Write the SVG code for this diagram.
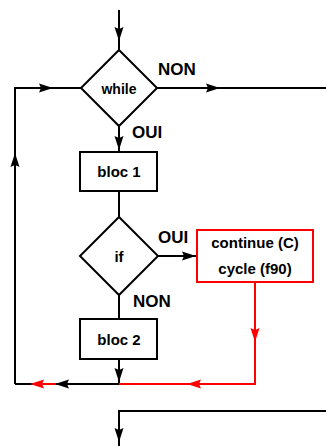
<svg xmlns="http://www.w3.org/2000/svg" xmlns:xlink="http://www.w3.org/1999/xlink" width="326" height="446" viewBox="0 0 326 446">
<style>
.ln{fill:none;stroke:#000;stroke-width:2}
.rl{fill:none;stroke:#f00;stroke-width:2}
.shape{fill:#fff;stroke:#000;stroke-width:2}
.rbox{fill:#fff;stroke:#f00;stroke-width:2}
.t{font-family:"Liberation Sans",Arial,sans-serif;font-weight:bold;font-size:15px;text-anchor:middle;fill:#000}
.lab{font-family:"Liberation Sans",Arial,sans-serif;font-weight:bold;font-size:17px;fill:#000}
.ab{fill:#000}
.ar{fill:#f00}
</style>
<defs>
<path id="ah" d="M0,0 L-14,-4.5 L-12,0 L-14,4.5 Z"/>
</defs>
<g id="connectors">
<path class="ln" d="M119,10 V50"/>
<path class="ln" d="M15,384 V88 H81"/>
<path class="ln" d="M157,88 H326"/>
<path class="ln" d="M119,126 V152"/>
<path class="ln" d="M119,191 V217"/>
<path class="ln" d="M158,256 H197"/>
<path class="ln" d="M119,295 V319"/>
<path class="ln" d="M119,359 V384 H15"/>
<path class="rl" d="M255,282 V384 H119"/>
<path class="rl" d="M56,384 H40"/>
<path class="ln" d="M326,411 H119 V446"/>
<use xlink:href="#ah" class="ab" transform="translate(119,41) rotate(90)"/>
<use xlink:href="#ah" class="ab" transform="translate(15,153) rotate(-90)"/>
<use xlink:href="#ah" class="ab" transform="translate(53,88)"/>
<use xlink:href="#ah" class="ab" transform="translate(220,88)"/>
<use xlink:href="#ah" class="ab" transform="translate(119,150) rotate(90)"/>
<use xlink:href="#ah" class="ab" transform="translate(196,256)"/>
<use xlink:href="#ah" class="ab" transform="translate(119,382) rotate(90)"/>
<use xlink:href="#ah" class="ab" transform="translate(55,384) rotate(180)"/>
<use xlink:href="#ah" class="ar" transform="translate(255,342) rotate(90)"/>
<use xlink:href="#ah" class="ar" transform="translate(187,384) rotate(180)"/>
<use xlink:href="#ah" class="ar" transform="translate(30,384) rotate(180)"/>
<use xlink:href="#ah" class="ab" transform="translate(119,442) rotate(90)"/>
</g>
<g id="while">
<path class="shape" d="M119,50 L157,88 L119,126 L81,88 Z"/>
<text class="t" x="119" y="94" style="font-size:14px">while</text>
</g>
<g id="label-non1"><text class="lab" x="158" y="75">NON</text></g>
<g id="label-oui1"><text class="lab" x="132" y="138">OUI</text></g>
<g id="bloc1">
<rect class="shape" x="80" y="152" width="77" height="39"/>
<text class="t" x="119" y="177">bloc 1</text>
</g>
<g id="if">
<path class="shape" d="M119,217 L158,256 L119,295 L80,256 Z"/>
<text class="t" x="119" y="262">if</text>
</g>
<g id="label-oui2"><text class="lab" x="158" y="243">OUI</text></g>
<g id="continue">
<rect class="rbox" x="197" y="230" width="116" height="52"/>
<text class="t" x="255" y="248">continue (C)</text>
<text class="t" x="255" y="274">cycle (f90)</text>
</g>
<g id="label-non2"><text class="lab" x="133" y="307">NON</text></g>
<g id="bloc2">
<rect class="shape" x="80" y="319" width="77" height="40"/>
<text class="t" x="119" y="345">bloc 2</text>
</g>
</svg>
